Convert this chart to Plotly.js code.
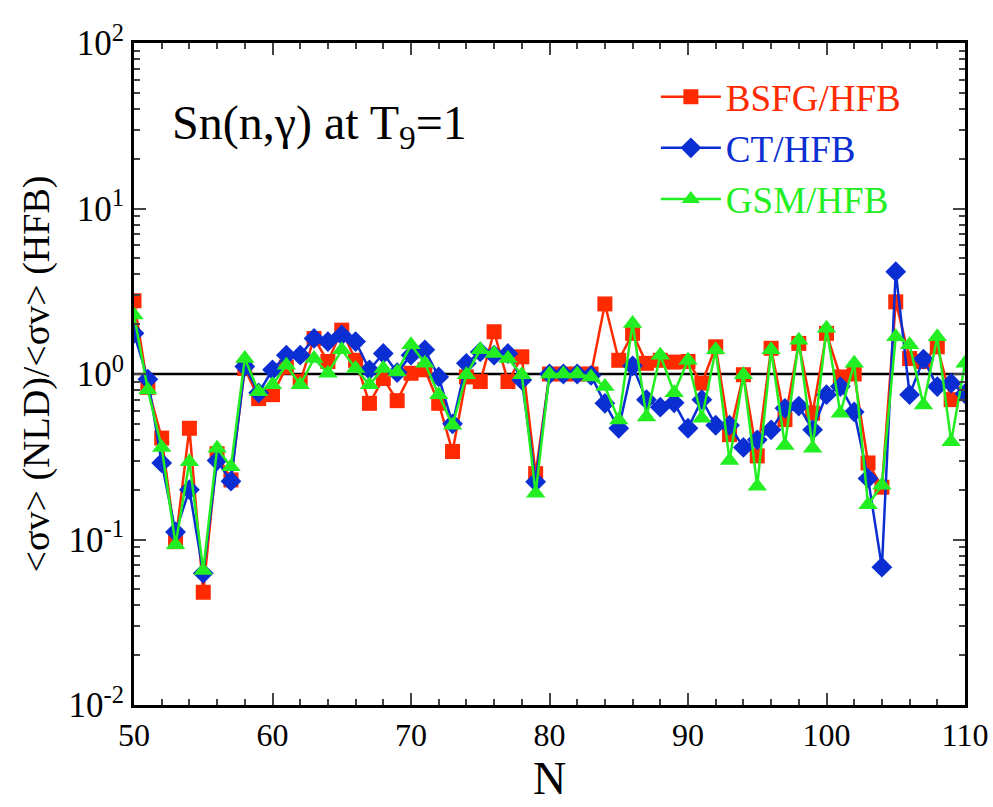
<!DOCTYPE html>
<html><head><meta charset="utf-8">
<script src="https://cdn.plot.ly/plotly-3.0.1.min.js"></script>
<style>html,body{margin:0;padding:0;background:#fff}</style>
</head><body>
<div id="chart" style="width:993px;height:807px"></div>
<script>
const N = [50,51,52,53,54,55,56,57,58,59,60,61,62,63,64,65,66,67,68,69,70,71,72,73,74,75,76,77,78,79,80,81,82,83,84,85,86,87,88,89,90,91,92,93,94,95,96,97,98,99,100,101,102,103,104,105,106,107,108,109,110];
const bsfg = [2.77,0.83,0.41,0.097,0.47,0.048,0.33,0.229,1.08,0.71,0.75,1.10,0.90,1.64,1.19,1.84,1.21,0.665,0.94,0.69,1.01,1.06,0.665,0.34,0.96,0.90,1.80,0.90,1.27,0.25,1.0,1.0,1.0,1.0,2.65,1.21,1.76,1.16,1.21,1.18,1.19,0.88,1.46,0.43,0.99,0.32,1.43,0.53,1.53,0.58,1.76,0.96,1.00,0.29,0.207,2.73,1.24,1.19,1.46,0.70,0.76];
const ct = [1.76,0.93,0.29,0.111,0.20,0.0625,0.30,0.225,1.11,0.77,1.06,1.30,1.30,1.64,1.57,1.72,1.57,1.06,1.33,1.02,1.30,1.40,0.96,0.50,1.16,1.36,1.30,1.33,0.92,0.223,1.0,1.0,1.0,0.98,0.665,0.47,1.12,0.70,0.63,0.67,0.47,0.70,0.49,0.49,0.36,0.40,0.46,0.62,0.64,0.46,0.75,0.84,0.59,0.234,0.068,4.15,0.75,1.23,0.84,0.88,0.76];
const gsm = [2.27,0.80,0.36,0.093,0.295,0.065,0.356,0.275,1.24,0.78,0.86,1.13,0.86,1.24,1.01,1.40,1.08,0.86,1.08,1.03,1.50,1.16,0.75,0.49,0.99,1.40,1.33,1.24,0.99,0.19,1.0,1.0,1.0,0.96,0.84,0.527,2.02,0.55,1.30,0.77,1.21,0.54,1.40,0.30,0.99,0.21,1.40,0.37,1.60,0.356,1.89,0.58,1.16,0.162,0.213,1.68,1.50,0.65,1.68,0.39,1.16];
const names = ['BSFG/HFB','CT/HFB','GSM/HFB'];
const colors = ['#ff2a00','#0a2ed2','#22ee22'];
const symbols = ['square','diamond','triangle-up'];
const msize = [15,16,17];
const yTickVals = [0.01,0.1,1,10,100];
const yTickText = ['10<sup>-2</sup>','10<sup>-1</sup>','10<sup>0</sup>','10<sup>1</sup>','10<sup>2</sup>'];
const series = [bsfg, ct, gsm];

const traces = series.map((ys,i)=>({
  x: N, y: ys, type:'scatter', mode:'lines+markers',
  name: '<span style="color:'+colors[i]+'">'+names[i]+'</span>',
  line:{color:colors[i], width:2.5},
  marker:{symbol:symbols[i], size:msize[i], color:colors[i]}
}));

const font = 'Liberation Serif, Times New Roman, serif';
const layout = {
  width:993, height:807,
  margin:{l:134, r:28, t:43, b:102},
  paper_bgcolor:'#fff', plot_bgcolor:'#fff',
  font:{family:font, color:'#000'},
  showlegend:true,
  legend:{x:0.628, y:0.965, xanchor:'left', yanchor:'top', bgcolor:'rgba(0,0,0,0)',
          font:{family:font, size:37}, tracegroupgap:0, itemwidth:60},
  xaxis:{range:[50,110], tickvals:[50,60,70,80,90,100,110], ticks:'inside', ticklen:12, tickwidth:2,
         showline:true, linewidth:3, linecolor:'#000', mirror:'ticks', showgrid:false, zeroline:false,
         tickfont:{family:font, size:32},
         minor:{dtick:2, ticks:'inside', ticklen:6, tickwidth:2, showgrid:false},
         title:{text:'N', font:{family:font, size:46}, standoff:10}},
  yaxis:{type:'log', range:[-2,2], tickvals:yTickVals, ticktext:yTickText, ticks:'inside', ticklen:12, tickwidth:2,
         showline:true, linewidth:3, linecolor:'#000', mirror:'ticks', showgrid:false, zeroline:false,
         tickfont:{family:font, size:35},
         minor:{dtick:'D1', ticks:'inside', ticklen:6, tickwidth:2, showgrid:false},
         title:{text:'&lt;σv&gt; (NLD)/&lt;σv&gt; (HFB)', font:{family:font, size:38}, standoff:8}},
  shapes:[{type:'line', xref:'paper', x0:0, x1:1, yref:'y', y0:1, y1:1, line:{color:'#000', width:2.5}, layer:'below'}],
  annotations:[{xref:'paper', yref:'paper', x:0.043, y:0.875, xanchor:'left', yanchor:'middle', showarrow:false,
     text:'Sn(n,γ) at T<sub>9</sub>=1', font:{family:font, size:48, color:'#000'}}]
};
Plotly.newPlot('chart', traces, layout, {displayModeBar:false});
</script>
</body></html>
